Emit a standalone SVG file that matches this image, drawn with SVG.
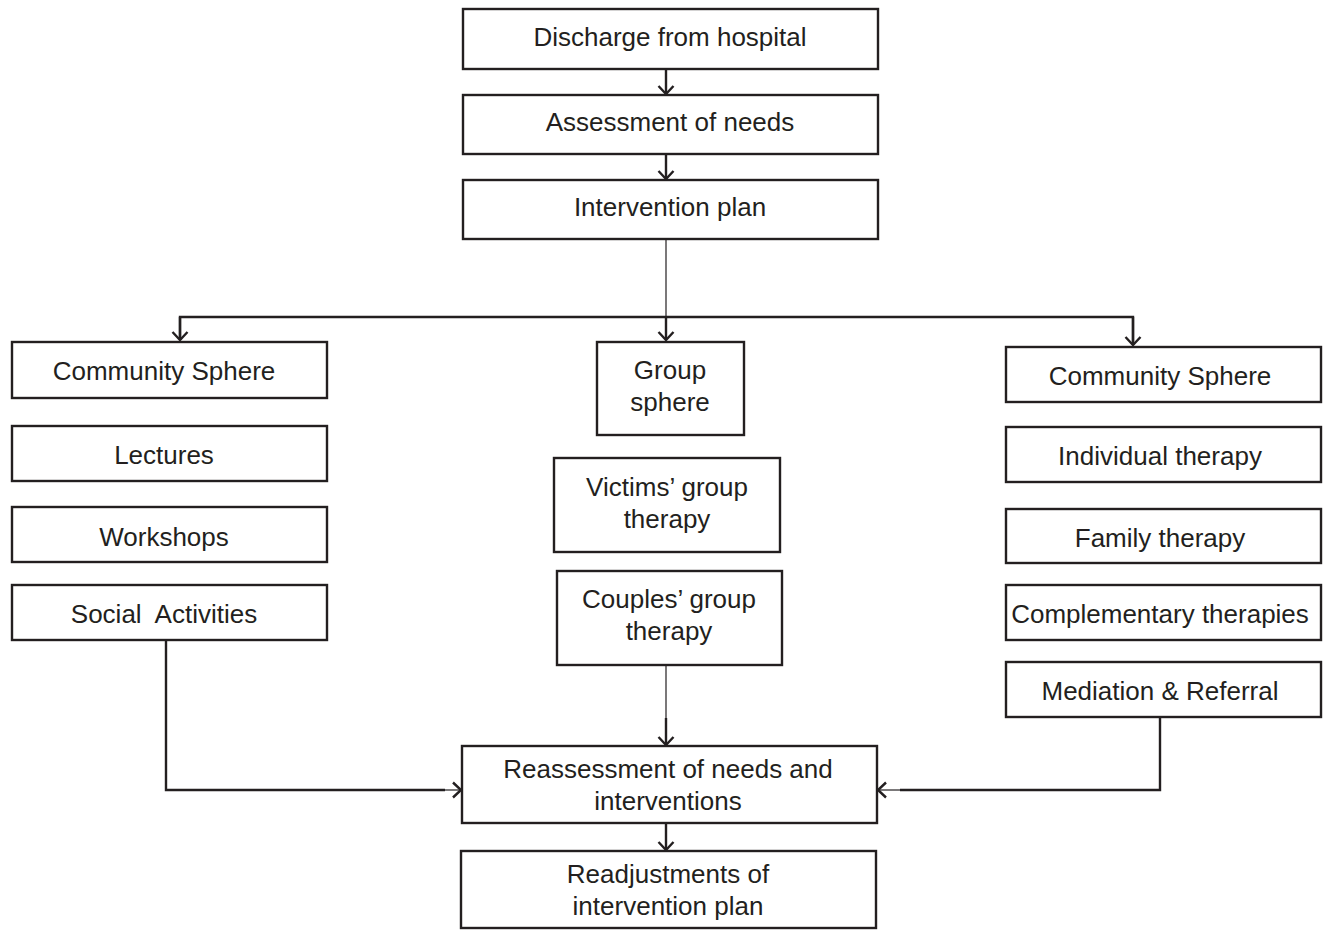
<svg xmlns="http://www.w3.org/2000/svg" width="1323" height="930" viewBox="0 0 1323 930">
<defs>
<style>
.box{fill:#fff;stroke:#231f20;stroke-width:2.4}
.t{font-family:"Liberation Sans",Arial,sans-serif;font-size:26px;fill:#231f20;text-anchor:middle}
.c{fill:none;stroke:#231f20;stroke-width:2.4}
.thin{fill:none;stroke:#231f20;stroke-width:1.2}
</style>
<marker id="ah" viewBox="-10 -9 12 18" refX="0" refY="0" markerWidth="12" markerHeight="18" markerUnits="userSpaceOnUse" orient="auto">
<path d="M-8,-7.5 L0,0 L-8,7.5" fill="none" stroke="#231f20" stroke-width="2.4"/>
</marker>
</defs>
<rect width="1323" height="930" fill="#fff"/>

<g id="connectors">
<line class="c" x1="666" y1="69" x2="666" y2="94" marker-end="url(#ah)"/>
<line class="c" x1="666" y1="154" x2="666" y2="179" marker-end="url(#ah)"/>
<line class="thin" x1="666" y1="239" x2="666" y2="317"/>
<polyline class="c" points="180,340 180,317 1133,317 1133,345"/>
<line class="c" x1="180" y1="317" x2="180" y2="340" marker-end="url(#ah)"/>
<line class="c" x1="666" y1="317" x2="666" y2="340" marker-end="url(#ah)"/>
<line class="c" x1="1133" y1="317" x2="1133" y2="345" marker-end="url(#ah)"/>
<line class="thin" x1="666" y1="665" x2="666" y2="720"/>
<line class="c" x1="666" y1="718" x2="666" y2="745" marker-end="url(#ah)"/>
<polyline class="c" points="166,640 166,790 445,790"/>
<line class="thin" x1="440" y1="790" x2="461" y2="790" marker-end="url(#ah)"/>
<polyline class="c" points="1160,717 1160,790 900,790"/>
<line class="thin" x1="905" y1="790" x2="878" y2="790" marker-end="url(#ah)"/>
<line class="c" x1="666" y1="823" x2="666" y2="850" marker-end="url(#ah)"/>
</g>

<g id="n-discharge"><rect class="box" x="463" y="9" width="415" height="60"/><text class="t" x="670" y="46">Discharge from hospital</text></g>
<g id="n-assessment"><rect class="box" x="463" y="95" width="415" height="59"/><text class="t" x="670" y="131">Assessment of needs</text></g>
<g id="n-plan"><rect class="box" x="463" y="180" width="415" height="59"/><text class="t" x="670" y="216">Intervention plan</text></g>

<g id="n-community-left"><rect class="box" x="12" y="342" width="315" height="56"/><text class="t" x="164" y="380">Community Sphere</text></g>
<g id="n-lectures"><rect class="box" x="12" y="426" width="315" height="55"/><text class="t" x="164" y="464">Lectures</text></g>
<g id="n-workshops"><rect class="box" x="12" y="507" width="315" height="55"/><text class="t" x="164" y="546">Workshops</text></g>
<g id="n-social"><rect class="box" x="12" y="585" width="315" height="55"/><text class="t" x="164" y="623" xml:space="preserve">Social  Activities</text></g>

<g id="n-group"><rect class="box" x="597" y="342" width="147" height="93"/><text class="t" x="670" y="379">Group</text><text class="t" x="670" y="411">sphere</text></g>
<g id="n-victims"><rect class="box" x="554" y="458" width="226" height="94"/><text class="t" x="667" y="496">Victims’ group</text><text class="t" x="667" y="528">therapy</text></g>
<g id="n-couples"><rect class="box" x="557" y="571" width="225" height="94"/><text class="t" x="669" y="608">Couples’ group</text><text class="t" x="669" y="640">therapy</text></g>

<g id="n-community-right"><rect class="box" x="1006" y="347" width="315" height="55"/><text class="t" x="1160" y="385">Community Sphere</text></g>
<g id="n-individual"><rect class="box" x="1006" y="427" width="315" height="55"/><text class="t" x="1160" y="465">Individual therapy</text></g>
<g id="n-family"><rect class="box" x="1006" y="509" width="315" height="54"/><text class="t" x="1160" y="547">Family therapy</text></g>
<g id="n-complementary"><rect class="box" x="1006" y="585" width="315" height="55"/><text class="t" x="1160" y="623">Complementary therapies</text></g>
<g id="n-mediation"><rect class="box" x="1006" y="662" width="315" height="55"/><text class="t" x="1160" y="700">Mediation &amp; Referral</text></g>

<g id="n-reassessment"><rect class="box" x="462" y="746" width="415" height="77"/><text class="t" x="668" y="778">Reassessment of needs and</text><text class="t" x="668" y="810">interventions</text></g>
<g id="n-readjustments"><rect class="box" x="461" y="851" width="415" height="77"/><text class="t" x="668" y="883">Readjustments of</text><text class="t" x="668" y="915">intervention plan</text></g>
</svg>
